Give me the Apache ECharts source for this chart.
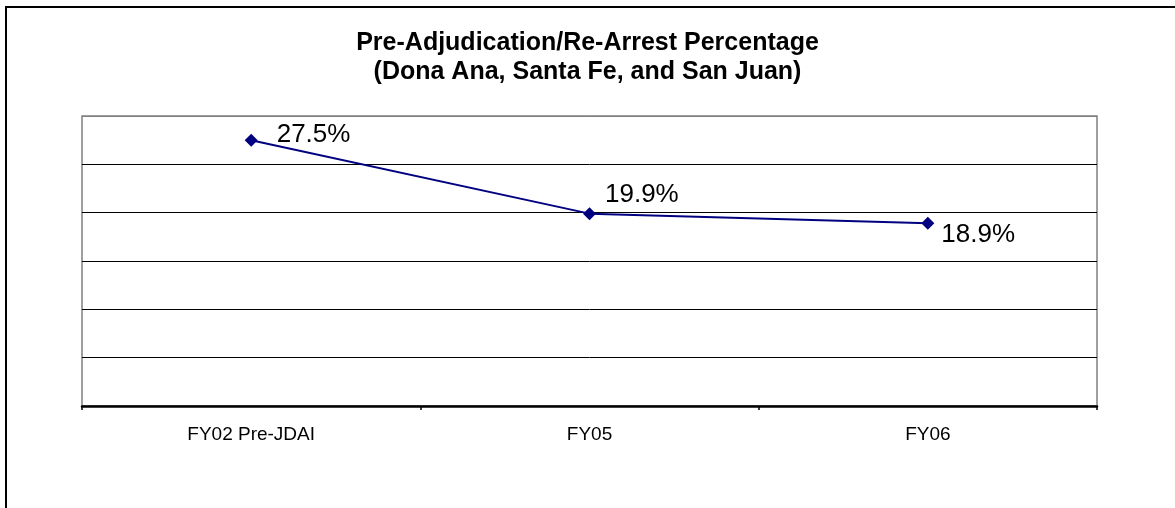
<!DOCTYPE html>
<html>
<head>
<meta charset="utf-8">
<script src="https://cdn.jsdelivr.net/npm/echarts@6/dist/echarts.min.js"></script>
<style>
  html, body { margin: 0; padding: 0; background: #fff; }
  #main { width: 1175px; height: 508px; }
</style>
</head>
<body>
<div id="main"></div>
<script>
  // data
  const categories = ['FY02 Pre-JDAI', 'FY05', 'FY06'];
  const rearrestPct = [27.5, 19.9, 18.9];
  // label placement per point (same as original)
  const labelPos = [[14, -5], [4, -19], [2, 12]];

  const chart = echarts.init(document.getElementById('main'));

  const option = {
    animation: false,
    backgroundColor: '#fff',
    title: {
      text: 'Pre-Adjudication/Re-Arrest Percentage\n(Dona Ana, Santa Fe, and San Juan)',
      left: 'center',
      top: 24,
      padding: [5, 0, 5, 19],
      textStyle: {
        fontFamily: 'Liberation Sans',
        fontSize: 25,
        fontWeight: 'bold',
        color: '#000',
        lineHeight: 29
      }
    },
    graphic: [{
      type: 'rect',
      shape: { x: 6, y: 7, width: 1250, height: 600 },
      style: { fill: 'none', stroke: '#000', lineWidth: 2 },
      silent: true
    }],
    grid: {
      left: 82,
      top: 116,
      right: 78,
      bottom: 102,
      show: true,
      borderColor: '#808080',
      borderWidth: 1.5,
      backgroundColor: '#fff'
    },
    xAxis: {
      type: 'category',
      data: categories,
      boundaryGap: true,
      axisLine: { lineStyle: { color: '#000', width: 2.5 } },
      axisTick: { show: true, length: 4, lineStyle: { color: '#000', width: 1.5 } },
      axisLabel: {
        color: '#000',
        fontFamily: 'Liberation Sans',
        fontSize: 19,
        margin: 19
      }
    },
    yAxis: {
      type: 'value',
      min: 0,
      max: 30,
      interval: 5,
      axisLine: { show: false },
      axisTick: { show: false },
      axisLabel: { show: false },
      splitLine: {
        lineStyle: {
          color: ['#000', '#000', '#000', '#000', '#000', '#000', '#808080'],
          width: 1
        }
      }
    },
    series: [{
      type: 'line',
      data: rearrestPct.map((v, i) => ({
        value: v,
        label: { offset: labelPos[i] }
      })),
      symbol: 'diamond',
      symbolSize: 13,
      itemStyle: { color: '#000080' },
      lineStyle: { color: '#000080', width: 2 },
      label: {
        show: true,
        position: 'right',
        formatter: p => p.value.toFixed(1) + '%',
        color: '#000',
        fontFamily: 'Liberation Sans',
        fontSize: 26
      }
    }]
  };

  chart.setOption(option);
</script>
</body>
</html>
